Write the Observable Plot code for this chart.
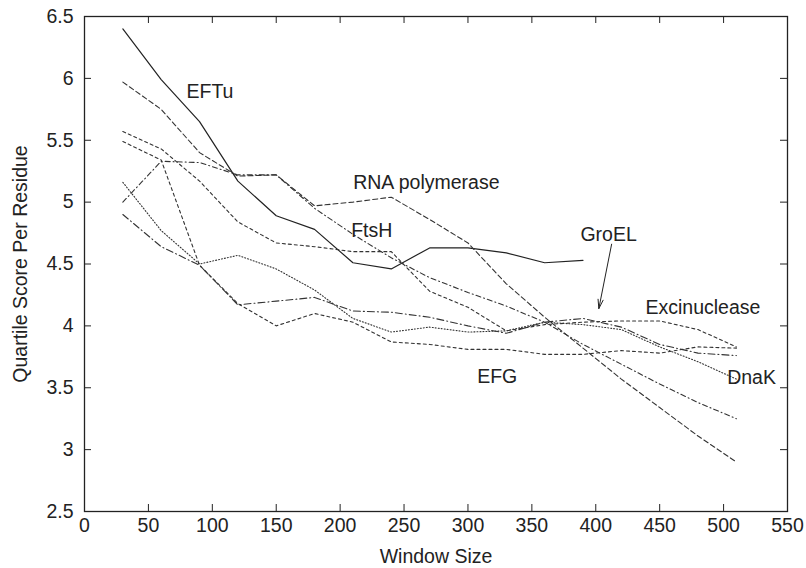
<!DOCTYPE html>
<html><head><meta charset="utf-8">
<script src="https://cdn.jsdelivr.net/npm/d3@7"></script>
<script src="https://cdn.jsdelivr.net/npm/@observablehq/plot@0.6"></script>
<style>body{margin:0;background:#fff}</style>
</head><body><div id="chart"></div>
<script>
// ---- data ----
const windowSizes = [30, 60, 90, 120, 150, 180, 210, 240, 270, 300, 330, 360, 390, 420, 450, 480, 510];
const efTu          = [6.40, 5.99, 5.65, 5.17, 4.89, 4.78, 4.51, 4.46, 4.63, 4.63, 4.59, 4.51, 4.53];
const rnaPolymerase = [5.97, 5.75, 5.40, 5.21, 5.22, 4.97, 5.00, 5.04, 4.86, 4.67, 4.34, 4.07, 3.82, 3.57, 3.34, 3.11, 2.90];
const ftsH          = [5.00, 5.33, 5.32, 5.22, 5.22, 4.95, 4.74, 4.55, 4.39, 4.27, 4.16, 4.03, 3.85, 3.69, 3.53, 3.38, 3.25];
const excinuclease  = [5.57, 5.43, 5.17, 4.84, 4.67, 4.64, 4.60, 4.60, 4.28, 4.15, 3.96, 4.01, 4.03, 4.04, 4.04, 3.97, 3.83];
const efG           = [5.49, 5.34, 4.49, 4.18, 4.00, 4.10, 4.03, 3.87, 3.85, 3.81, 3.81, 3.77, 3.77, 3.80, 3.78, 3.83, 3.82];
const dnaK          = [5.16, 4.77, 4.50, 4.57, 4.46, 4.29, 4.06, 3.95, 3.99, 3.95, 3.96, 4.03, 4.01, 3.97, 3.83, 3.71, 3.57];
const groEL         = [4.90, 4.64, 4.49, 4.17, 4.20, 4.23, 4.12, 4.11, 4.07, 4.00, 3.94, 4.03, 4.06, 3.99, 3.85, 3.78, 3.76];

const xTicks = [0, 50, 100, 150, 200, 250, 300, 350, 400, 450, 500, 550];
const yTicks = [2.5, 3, 3.5, 4, 4.5, 5, 5.5, 6, 6.5];

const labelText = ["EFTu", "RNA polymerase", "FtsH", "GroEL", "Excinuclease", "EFG", "DnaK"];
const labelX    = [79.8, 210.2, 208.6, 388.0, 438.9, 307.2, 502.8];
const labelY    = [5.89, 5.158, 4.772, 4.740, 4.148, 3.589, 3.577];
const arrowFrom = [412.4, 4.66];
const arrowTo   = [402.4, 4.14];

// ---- build tables ----
const series = [
  {name: "EFTu", values: efTu, dash: null},
  {name: "RNA polymerase", values: rnaPolymerase, dash: "5,3"},
  {name: "FtsH", values: ftsH, dash: "5,3,1,3"},
  {name: "Excinuclease", values: excinuclease, dash: "3,3"},
  {name: "EFG", values: efG, dash: "3,3"},
  {name: "DnaK", values: dnaK, dash: "1,2"},
  {name: "GroEL", values: groEL, dash: "7,3,1,3"}
];
const rowsOf = s => s.values.map((v, i) => ({x: windowSizes[i], y: v, name: s.name}));
const labels = labelText.map((t, i) => ({t, x: labelX[i], y: labelY[i]}));

const W = 806, H = 568, mL = 84, mR = 19, mT = 16, mB = 57;
const frameW = W - mL - mR, frameH = H - mT - mB;
const ink = "#222";
const FONT = 19.5;

const lineMarks = series.map(s => Plot.line(rowsOf(s), {
  x: "x", y: "y", stroke: s.dash ? "#333" : ink, strokeWidth: s.dash ? 1.1 : 1.2,
  strokeDasharray: s.dash || undefined, strokeLinejoin: "miter"
}));

const chart = Plot.plot({
  width: W, height: H,
  marginLeft: mL, marginRight: mR, marginTop: mT, marginBottom: mB,
  x: {domain: [0, 550]},
  y: {domain: [2.5, 6.5]},
  style: {fontFamily: "'Liberation Sans', Arial, Helvetica, sans-serif", fontSize: FONT + "px", color: ink, background: "#fff"},
  marks: [
    // inward ticks on all four sides
    Plot.ruleX(xTicks, {x: d => d, insetTop: frameH - 7, stroke: ink, strokeWidth: 1}),
    Plot.ruleX(xTicks, {x: d => d, insetBottom: frameH - 7, stroke: ink, strokeWidth: 1}),
    Plot.ruleY(yTicks, {y: d => d, insetRight: frameW - 7, stroke: ink, strokeWidth: 1}),
    Plot.ruleY(yTicks, {y: d => d, insetLeft: frameW - 7, stroke: ink, strokeWidth: 1}),
    ...lineMarks,
    Plot.frame({stroke: ink, strokeWidth: 1.3}),
    Plot.axisX({ticks: xTicks, tickSize: 0, tickPadding: 7, label: null, fontSize: FONT}),
    Plot.axisY({ticks: yTicks, tickSize: 0, tickPadding: 11, label: null, fontSize: FONT, tickFormat: d => String(d)}),
    Plot.text(["Window Size"], {text: d => d, frameAnchor: "bottom", dy: 45.5, textAnchor: "middle", lineAnchor: "middle", fontSize: FONT, fill: ink}),
    Plot.text(["Quartile Score Per Residue"], {text: d => d, frameAnchor: "left", dx: -64.2, rotate: -90, textAnchor: "middle", lineAnchor: "middle", fontSize: FONT, fill: ink}),
    Plot.text(labels, {x: "x", y: "y", text: "t", textAnchor: "start", lineAnchor: "middle", fontSize: FONT, fill: ink}),
    Plot.arrow([{x1: arrowFrom[0], y1: arrowFrom[1], x2: arrowTo[0], y2: arrowTo[1]}], {
      x1: "x1", y1: "y1", x2: "x2", y2: "y2", stroke: ink, strokeWidth: 1, headLength: 14, headAngle: 32
    })
  ]
});
document.getElementById("chart").appendChild(chart);
</script>
</body></html>
